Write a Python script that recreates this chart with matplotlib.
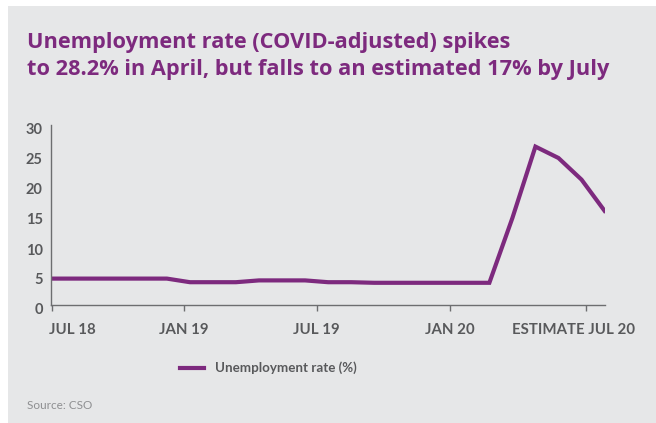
"""Unemployment rate (COVID-adjusted), Jul 2018 - Jul 2020."""

import matplotlib
matplotlib.use('Agg')
import matplotlib.pyplot as plt
import matplotlib.transforms as mtransforms
from matplotlib.patches import Rectangle

# monthly values, Jul 18 (0) ... Jul 20 (24)
months = list(range(25))
rate = [4.4, 4.4, 4.4, 4.4, 4.4, 4.4,
        3.8, 3.8, 3.8, 4.1, 4.1, 4.1,
        3.8, 3.8, 3.7, 3.7, 3.7, 3.7, 3.7, 3.7,
        14.5, 26.4, 24.5, 20.9, 15.7]

tick_pos = [0, 5.75, 11.5, 17.3, 23.2]
tick_labels = ['JUL 18', 'JAN 19', 'JUL 19', 'JAN 20', 'ESTIMATE JUL 20']
y_ticks = [0, 5, 10, 15, 20, 25, 30]

PURPLE = '#7d2a7e'
BG = '#e6e7e8'
GREY = '#58595b'

plt.rcParams['font.family'] = ['Lato', 'DejaVu Sans']

fig = plt.figure(figsize=(6.56, 4.23), dpi=100, facecolor='white')
fig.patches.append(Rectangle((8 / 656, 0), 1, 1 - 6 / 423,
                             transform=fig.transFigure, facecolor=BG,
                             edgecolor='none', zorder=-10))

ax = fig.add_axes([51 / 656, 118 / 423, 554 / 656, 180 / 423])
ax.set_facecolor(BG)
ax.plot(months, rate, color=PURPLE, linewidth=3, solid_joinstyle='miter',
        label='Unemployment rate (%)')

ax.set_xlim(-0.03, 24.02)
ax.set_ylim(0, 30)
ax.set_yticks(y_ticks)
ax.set_xticks(tick_pos)
ax.set_xticklabels(tick_labels)

for side in ['top', 'right']:
    ax.spines[side].set_visible(False)
for side in ['left', 'bottom']:
    ax.spines[side].set_color('#6d6e70')
    ax.spines[side].set_linewidth(1)

ax.tick_params(axis='y', length=0, pad=6, labelsize=10.5, labelcolor=GREY)
ax.tick_params(axis='x', length=4.5, width=1, color='#6d6e70', pad=8.5,
               labelsize=10.8, labelcolor=GREY)
for lbl in ax.get_yticklabels() + ax.get_xticklabels():
    lbl.set_fontweight('bold')

# nudge labels as in the original layout
for lbl in ax.get_yticklabels():
    lbl.set_transform(lbl.get_transform() +
                      mtransforms.ScaledTranslation(0, -4 / 100, fig.dpi_scale_trans))
xl = ax.get_xticklabels()
xl[0].set_horizontalalignment('left')
xl[0].set_transform(xl[0].get_transform() +
                    mtransforms.ScaledTranslation(-3 / 100, 0, fig.dpi_scale_trans))
xl[-1].set_transform(xl[-1].get_transform() +
                     mtransforms.ScaledTranslation(-13 / 100, 0, fig.dpi_scale_trans))

title_font = ['Open Sans', 'DejaVu Sans']
fig.text(27 / 656, 1 - 48 / 423, 'Unemployment rate (COVID-adjusted) spikes',
         color=PURPLE, fontsize=15.7, fontweight='bold', va='baseline',
         family=title_font)
fig.text(27 / 656, 1 - 75 / 423,
         'to 28.2% in April, but falls to an estimated 17% by July',
         color=PURPLE, fontsize=15.7, fontweight='bold', va='baseline',
         family=title_font)

leg = fig.legend(loc='center left', bbox_to_anchor=(180 / 656, 1 - 368 / 423),
                 frameon=False, handlelength=1.8, handletextpad=0.8,
                 borderaxespad=0, borderpad=0,
                 prop={'size': 9.6, 'weight': 'bold'})
for t in leg.get_texts():
    t.set_color(GREY)

fig.text(27 / 656, 1 - 405 / 423, 'Source: CSO', color='#8e8f91',
         fontsize=8.5, va='center')

fig.savefig('out.png', dpi=100, facecolor=fig.get_facecolor())
